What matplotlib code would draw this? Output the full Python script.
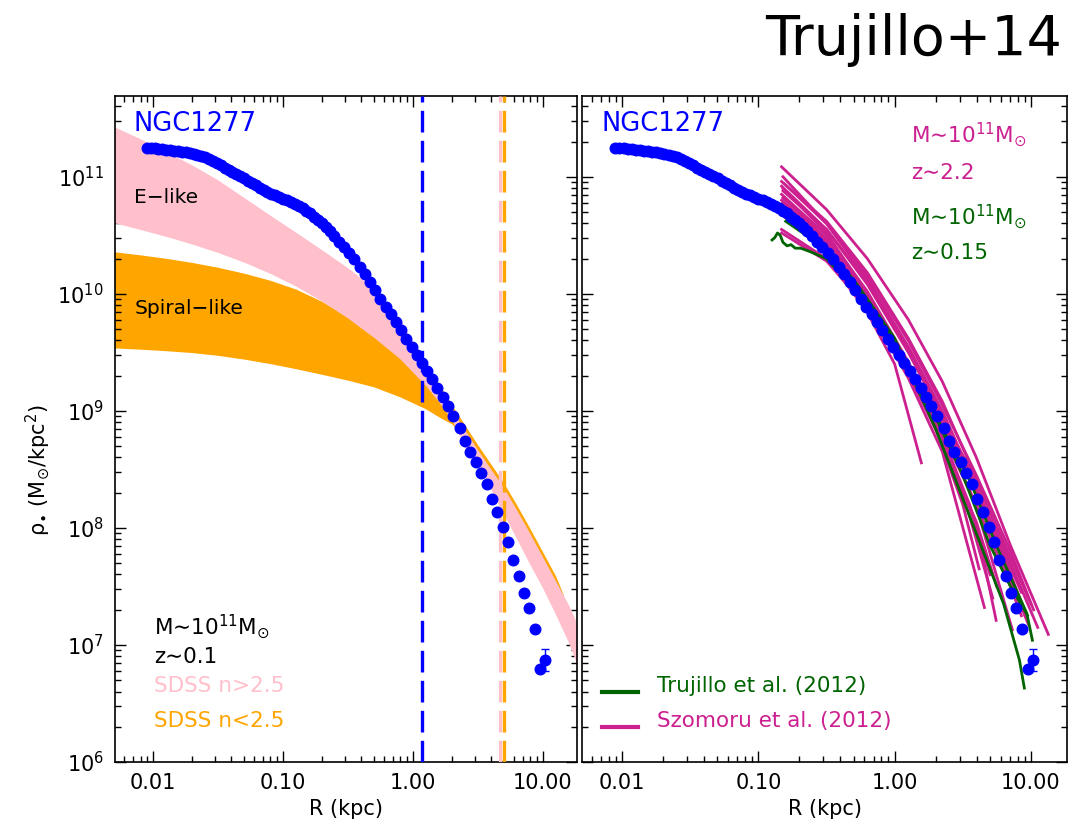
import numpy as np
import matplotlib
matplotlib.use('Agg')
import matplotlib.pyplot as plt

plt.rcParams['font.family'] = ['DejaVu Sans']
plt.rcParams['mathtext.default'] = 'regular'

# ------------------------------------------------------------
# NGC1277 stellar surface density profile (log10 R [kpc], log10 rho [Msun/kpc^2])
# ------------------------------------------------------------
ngc_logR = [-2.05, -2.02, -1.99, -1.96, -1.93, -1.90, -1.87, -1.84, -1.81, -1.78,
            -1.75, -1.72, -1.69, -1.66, -1.63, -1.60, -1.57, -1.54, -1.51, -1.48,
            -1.45, -1.42, -1.39, -1.36, -1.33, -1.30, -1.27, -1.24, -1.21, -1.18,
            -1.15, -1.12, -1.09, -1.06, -1.03, -1.00, -0.97, -0.94, -0.91, -0.88,
            -0.85, -0.82, -0.79, -0.76, -0.73, -0.70, -0.67, -0.64, -0.61,
            -0.57, -0.53, -0.49, -0.45, -0.41, -0.37, -0.33, -0.29, -0.25, -0.21,
            -0.17, -0.13, -0.09, -0.05, -0.01, 0.03, 0.07, 0.11, 0.15, 0.19,
            0.23, 0.27, 0.31, 0.36, 0.40, 0.438, 0.485, 0.523, 0.569, 0.608,
            0.646, 0.692, 0.731, 0.769, 0.815, 0.854, 0.892, 0.938, 0.977, 1.015]
ngc_logrho = [11.245, 11.243, 11.242, 11.240, 11.237, 11.233, 11.229, 11.224, 11.219, 11.214,
              11.209, 11.203, 11.195, 11.187, 11.176, 11.165, 11.151, 11.134, 11.117, 11.097,
              11.077, 11.059, 11.042, 11.025, 11.006, 10.987, 10.968, 10.948, 10.928, 10.908,
              10.888, 10.871, 10.855, 10.841, 10.826, 10.813, 10.800, 10.786, 10.769, 10.752,
              10.732, 10.711, 10.688, 10.660, 10.632, 10.601, 10.568, 10.535, 10.490,
              10.440, 10.398, 10.353, 10.294, 10.232, 10.170, 10.102, 10.030, 9.960, 9.890,
              9.824, 9.757, 9.690, 9.618, 9.547, 9.476, 9.410, 9.343, 9.275, 9.197,
              9.118, 9.039, 8.958, 8.856, 8.744, 8.650, 8.564, 8.470, 8.376, 8.248,
              8.137, 8.009, 7.880, 7.726, 7.590, 7.444, 7.316, 7.137, 6.795, 6.872]
ngc_last_err = 0.094   # dex, outermost point

# ------------------------------------------------------------
# SDSS z~0.1 bands (log10 R, log10 rho edges)
# ------------------------------------------------------------
elike_logR = [-2.30, -2.10, -1.90, -1.70, -1.50, -1.30, -1.10, -0.90, -0.70, -0.50,
              -0.30, -0.10, 0.10, 0.20, 0.30, 0.40, 0.50, 0.60, 0.70, 0.80,
              0.90, 1.00, 1.10, 1.20, 1.27]
elike_hi = [11.427, 11.325, 11.214, 11.100, 10.972, 10.822, 10.672, 10.525, 10.375, 10.222,
            10.045, 9.790, 9.368, 9.188, 9.009, 8.838, 8.667, 8.504, 8.342, 8.154,
            7.957, 7.752, 7.547, 7.342, 7.171]
elike_lo = [10.607, 10.550, 10.490, 10.425, 10.352, 10.270, 10.175, 10.065, 9.938, 9.792,
            9.627, 9.446, 9.214, 9.077, 8.923, 8.692, 8.544, 8.333, 8.120, 7.906,
            7.692, 7.487, 7.260, 7.020, 6.820]
spiral_logR = [-2.30, -2.10, -1.90, -1.70, -1.50, -1.30, -1.10, -0.90, -0.70, -0.50,
               -0.30, -0.10, 0.10, 0.20, 0.30, 0.40, 0.50, 0.60, 0.70, 0.80,
               0.90, 1.00, 1.10, 1.16]
spiral_hi = [10.359, 10.333, 10.303, 10.268, 10.226, 10.176, 10.116, 10.040, 9.935, 9.800,
             9.640, 9.521, 9.385, 9.231, 9.051, 8.880, 8.709, 8.547, 8.385, 8.197,
             8.000, 7.795, 7.590, 7.427]
spiral_lo = [9.538, 9.527, 9.514, 9.498, 9.474, 9.442, 9.404, 9.360, 9.312, 9.262,
             9.205, 9.120, 9.017, 8.949, 8.889, 8.769, 8.598, 8.436, 8.274, 8.085,
             7.889, 7.684, 7.479, 7.359]

R_inner_blue = 1.17    # kpc
R_pink_line = 4.73
R_orange_line = 5.0

# ------------------------------------------------------------
# High-z (Szomoru+12) and low-z (Trujillo+12) massive galaxies
# ------------------------------------------------------------
szo_logR = [
    [-0.83, -0.50, -0.20, 0.10, 0.35, 0.60, 0.85, 1.128],
    [-0.83, -0.50, -0.20, 0.10, 0.35, 0.60, 0.85, 1.05],
    [-0.83, -0.50, -0.20, 0.10, 0.35, 0.60, 0.85, 0.98],
    [-0.83, -0.50, -0.20, 0.10, 0.35, 0.60, 0.864],
    [-0.83, -0.50, -0.20, 0.10, 0.35, 0.60, 0.745],
    [-0.83, -0.50, -0.20, 0.10, 0.35, 0.659],
    [-0.83, -0.50, -0.20, 0.00, 0.196],
    [-0.83, -0.50, -0.20, 0.10, 0.35, 0.60, 0.85, 0.93],
    [-0.83, -0.50, -0.20, 0.10, 0.35, 0.60, 0.85, 1.00],
    [-0.82, -0.50, -0.20, 0.10, 0.35, 0.60, 0.80, 0.90],
    [-0.82, -0.50, -0.20, 0.10, 0.35, 0.55, 0.70],
    [-0.82, -0.50, -0.20, 0.10, 0.35, 0.60, 0.75],
    [-0.80, -0.50, -0.20, 0.10, 0.35, 0.60, 0.82, 0.95],
    [-0.82, -0.50, -0.20, 0.10, 0.35, 0.60, 0.80, 0.93],
    [-0.82, -0.50, -0.20, 0.10, 0.35, 0.55, 0.72],
    [-0.80, -0.50, -0.20, 0.05, 0.30, 0.50, 0.62],
    [-0.81, -0.50, -0.20, 0.10, 0.35, 0.60, 0.85, 1.02],
]
szo_logrho = [
    [11.085, 10.72, 10.30, 9.78, 9.25, 8.60, 7.85, 7.09],
    [10.96, 10.62, 10.18, 9.62, 9.08, 8.42, 7.70, 7.15],
    [10.92, 10.55, 10.08, 9.50, 8.95, 8.30, 7.55, 7.18],
    [10.85, 10.50, 10.02, 9.42, 8.85, 8.18, 7.13],
    [10.80, 10.45, 9.96, 9.35, 8.75, 8.02, 7.21],
    [10.74, 10.40, 9.90, 9.28, 8.65, 7.32],
    [10.70, 10.36, 9.84, 9.40, 8.556],
    [10.55, 10.30, 9.85, 9.30, 8.80, 8.20, 7.50, 7.25],
    [10.52, 10.28, 9.88, 9.40, 8.95, 8.40, 7.75, 7.35],
    [11.00, 10.60, 10.12, 9.55, 9.00, 8.35, 7.75, 7.40],
    [10.90, 10.52, 10.00, 9.38, 8.78, 8.20, 7.60],
    [10.78, 10.43, 9.93, 9.33, 8.72, 8.05, 7.50],
    [10.65, 10.38, 9.92, 9.38, 8.90, 8.32, 7.70, 7.30],
    [10.88, 10.55, 10.10, 9.52, 8.98, 8.35, 7.80, 7.45],
    [10.82, 10.47, 9.98, 9.36, 8.74, 8.10, 7.40],
    [10.68, 10.40, 9.95, 9.45, 8.85, 8.20, 7.65],
    [10.94, 10.60, 10.15, 9.60, 9.05, 8.45, 7.80, 7.30],
]

tru_logR = [
    [-0.90, -0.88, -0.86, -0.84, -0.82, -0.79, -0.76, -0.73, -0.69, -0.62, -0.50,
     -0.30, -0.10, 0.10, 0.30, 0.50, 0.70, 0.85, 0.974],
    [-0.80, -0.50, -0.20, 0.10, 0.35, 0.55, 0.75, 0.97, 1.011],
    [-0.60, -0.30, 0.00, 0.30, 0.57, 0.80, 0.916, 0.952],
]
tru_logrho = [
    [10.46, 10.48, 10.52, 10.50, 10.44, 10.41, 10.42, 10.39, 10.39, 10.36, 10.30,
     10.05, 9.76, 9.40, 8.95, 8.45, 7.85, 7.50, 7.256],
    [10.62, 10.38, 9.93, 9.40, 8.85, 8.41, 7.84, 7.27, 7.04],
    [10.50, 10.12, 9.62, 8.85, 8.04, 7.35, 6.87, 6.632],
]

BLUE = '#0000FF'
PINK = '#FFC0CB'
ORANGE = '#FFA500'
MAGENTA = '#CC2090'
GREEN = '#006400'

R = 10 ** np.array(ngc_logR)
rho = 10 ** np.array(ngc_logrho)

fig = plt.figure(figsize=(10.72, 8.35), dpi=100)
axL = fig.add_axes([115 / 1072, 73 / 835, 462 / 1072, 666 / 835])
axR = fig.add_axes([582 / 1072, 73 / 835, 485 / 1072, 666 / 835])

for ax in (axL, axR):
    ax.set_xscale('log')
    ax.set_yscale('log')
    ax.set_xlim(10 ** -2.295, 10 ** 1.265)
    ax.set_ylim(1e6, 4.9e11)
    ax.set_xticks([0.01, 0.1, 1, 10])
    ax.set_xticklabels(['0.01', '0.10', '1.00', '10.00'])
    ax.tick_params(which='both', direction='in', top=True, right=True,
                   labelsize=15, width=1)
    ax.tick_params(which='major', length=8, pad=8)
    ax.tick_params(which='minor', length=4.5)
    for sp in ax.spines.values():
        sp.set_linewidth(1.2)
    ax.set_xlabel('R (kpc)', fontsize=15, labelpad=4)

axR.tick_params(axis='y', labelleft=False)

# ---------------- left panel ----------------
axL.fill_between(10 ** np.array(spiral_logR), 10 ** np.array(spiral_lo),
                 10 ** np.array(spiral_hi), color=ORANGE, linewidth=0, zorder=1)
axL.fill_between(10 ** np.array(elike_logR), 10 ** np.array(elike_lo),
                 10 ** np.array(elike_hi), color=PINK, linewidth=0, zorder=2)

axL.axvline(R_inner_blue, color=BLUE, lw=2.4, dashes=(6.5, 2.5), zorder=3)
axL.axvline(R_pink_line, color=PINK, lw=2.4, dashes=(6.5, 2.5), zorder=3)
axL.axvline(R_orange_line, color=ORANGE, lw=2.4, dashes=(6.5, 2.5), zorder=3)

for ax in (axL, axR):
    ax.plot(R, rho, 'o', color=BLUE, ms=7.6, mec=BLUE, zorder=6)
    ax.errorbar(R[-1:], rho[-1:],
                yerr=[[rho[-1] * (1 - 10 ** -ngc_last_err)], [rho[-1] * (10 ** ngc_last_err - 1)]],
                fmt='none', ecolor=BLUE, elinewidth=1, capsize=3, zorder=6)
    ax.text(0.040, 0.947, 'NGC1277', color=BLUE, fontsize=18.5, transform=ax.transAxes)

axL.text(0.042, 0.839, 'E\u2212like', fontsize=14.5, transform=axL.transAxes)
axL.text(0.042, 0.672, 'Spiral\u2212like', fontsize=14.5, transform=axL.transAxes)

axL.text(0.084, 0.191, 'M\u223c10$^{11}$M$_{\\odot}$', fontsize=15.5, transform=axL.transAxes)
axL.text(0.084, 0.148, 'z\u223c0.1', fontsize=15.5, transform=axL.transAxes)
axL.text(0.084, 0.1056, 'SDSS n>2.5', fontsize=15.5, color=PINK, transform=axL.transAxes)
axL.text(0.084, 0.053, 'SDSS n<2.5', fontsize=15.5, color=ORANGE, transform=axL.transAxes)

# ---------------- right panel ----------------
for lr, lrho in zip(szo_logR, szo_logrho):
    axR.plot(10 ** np.array(lr), 10 ** np.array(lrho), color=MAGENTA, lw=2.0, zorder=4)
for lr, lrho in zip(tru_logR, tru_logrho):
    axR.plot(10 ** np.array(lr), 10 ** np.array(lrho), color=GREEN, lw=2.0, zorder=5)

axR.text(0.678, 0.930, 'M\u223c10$^{11}$M$_{\\odot}$', fontsize=15.5, color=MAGENTA,
         transform=axR.transAxes)
axR.text(0.678, 0.876, 'z\u223c2.2', fontsize=15.5, color=MAGENTA, transform=axR.transAxes)
axR.text(0.678, 0.8066, 'M\u223c10$^{11}$M$_{\\odot}$', fontsize=15.5, color=GREEN,
         transform=axR.transAxes)
axR.text(0.678, 0.7548, 'z\u223c0.15', fontsize=15.5, color=GREEN, transform=axR.transAxes)

axR.plot([0.041, 0.116], [0.1056, 0.1056], color=GREEN, lw=3, transform=axR.transAxes)
axR.plot([0.041, 0.116], [0.053, 0.053], color=MAGENTA, lw=3, transform=axR.transAxes)
axR.text(0.155, 0.1056, 'Trujillo et al. (2012)', fontsize=15.5, color=GREEN,
         transform=axR.transAxes)
axR.text(0.155, 0.053, 'Szomoru et al. (2012)', fontsize=15.5, color=MAGENTA,
         transform=axR.transAxes)

fig.text(38 / 1072, 1 - 470 / 835, '\u03c1$_{\\bullet}$ (M$_{\\odot}$/kpc$^{2}$)',
         rotation=90, fontsize=15, ha='center', va='center')
fig.text(1062 / 1072, 1 - 55 / 835, 'Trujillo+14', fontsize=40, ha='right',
         va='baseline')

fig.savefig('out.png', dpi=100)
